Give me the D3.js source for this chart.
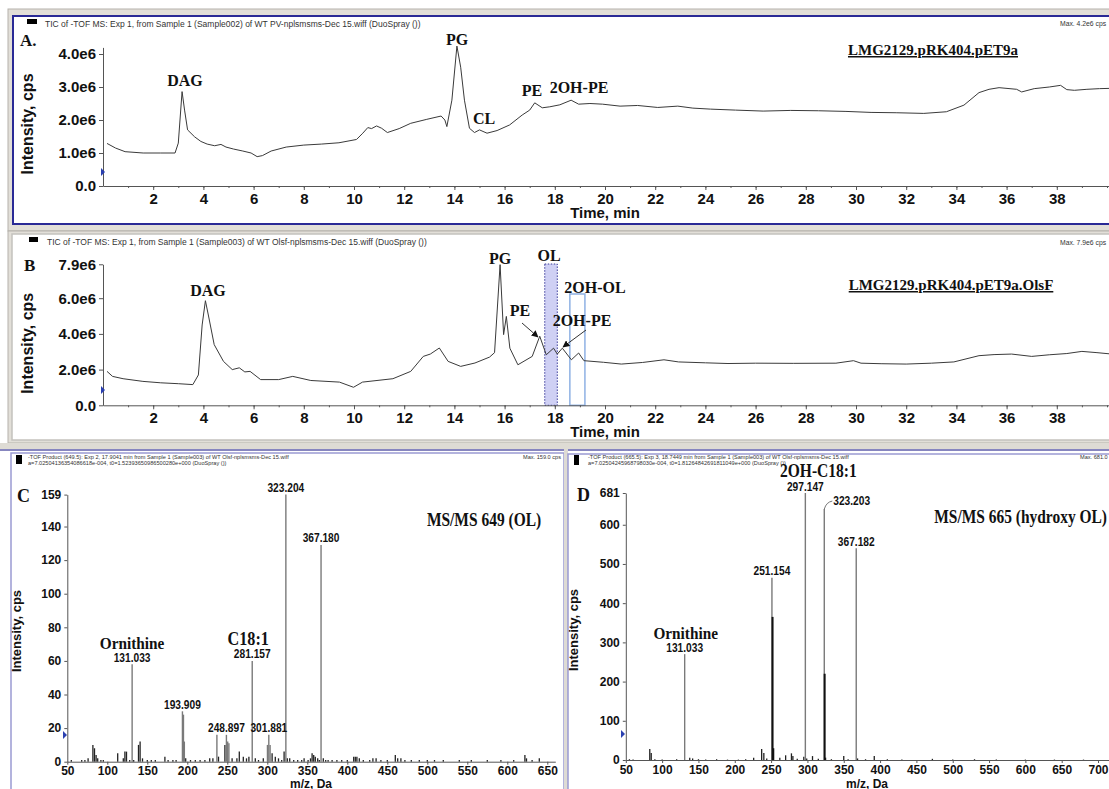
<!DOCTYPE html>
<html>
<head>
  <title>TIC and MS/MS panels</title>
  <style>
    body { margin: 0; background: #fff; }
    svg { display: block; }
    .tick text { font-family: "Liberation Sans", Arial, sans-serif; font-weight: bold; fill: #111; }
    .big .tick text { font-size: 15px; }
    .small .tick text { font-size: 12px; }
    .domain, .tick line { stroke: #555; }
    .hdr { font-family: Arial, "Liberation Sans", sans-serif; font-size: 8.5px; fill: #333; }
    .ann { font-family: "Liberation Serif", "Times New Roman", serif; font-weight: bold; fill: #111; }
    .num { font-family: "Liberation Sans", Arial, sans-serif; font-weight: bold; font-size: 12px; fill: #111; }
    .axt { font-family: "Liberation Sans", Arial, sans-serif; font-weight: bold; fill: #111; }
  </style>
</head>
<body>
  <div id="chart"></div>

  <script src="https://d3js.org/d3.v7.min.js"></script>
  <script>
    // ---- data ----
    const timeTicks = [2, 4, 6, 8, 10, 12, 14, 16, 18, 20, 22, 24, 26, 28, 30, 32, 34, 36, 38];
    const yTicksA = [0, 1e6, 2e6, 3e6, 4e6];
    const yTicksB = [0, 2e6, 4e6, 6e6, 7.9e6];

    // [time (min), intensity (cps)]
    const ticA = [
      [0.16, 1.29e6], [0.5, 1.15e6], [0.88, 1.04e6], [1.6, 1.0e6], [2.3, 1.0e6], [2.87, 1.0e6],
      [3.0, 1.3e6], [3.15, 2.86e6], [3.25, 2.3e6], [3.37, 1.7e6], [3.65, 1.49e6], [3.9, 1.35e6],
      [4.15, 1.27e6], [4.45, 1.22e6], [4.7, 1.26e6], [4.9, 1.18e6], [5.2, 1.12e6], [5.57, 1.06e6],
      [5.9, 1.0e6], [6.14, 0.89e6], [6.35, 0.92e6], [6.7, 1.06e6], [7.3, 1.18e6], [8.0, 1.24e6],
      [8.7, 1.27e6], [9.4, 1.31e6], [10.1, 1.41e6], [10.35, 1.6e6], [10.55, 1.77e6], [10.7, 1.74e6],
      [10.9, 1.82e6], [11.1, 1.75e6], [11.33, 1.62e6], [11.8, 1.74e6], [12.26, 1.9e6], [12.9, 2.02e6],
      [13.47, 2.12e6], [13.62, 2.0e6], [13.7, 1.8e6], [13.9, 2.6e6], [14.1, 4.24e6], [14.25, 3.6e6],
      [14.4, 2.6e6], [14.6, 1.75e6], [14.8, 1.62e6], [15.0, 1.7e6], [15.3, 1.6e6], [15.7, 1.68e6],
      [16.2, 1.85e6], [16.7, 2.15e6], [17.0, 2.3e6], [17.2, 2.52e6], [17.5, 2.37e6], [17.8, 2.4e6],
      [18.2, 2.46e6], [18.65, 2.6e6], [18.95, 2.48e6], [19.4, 2.5e6], [19.9, 2.48e6], [20.6, 2.42e6],
      [21.3, 2.44e6], [22.1, 2.38e6], [22.9, 2.42e6], [23.5, 2.36e6], [24.2, 2.33e6], [25.2, 2.3e6],
      [26.3, 2.27e6], [27.4, 2.29e6], [28.5, 2.28e6], [29.6, 2.26e6], [30.6, 2.23e6], [31.6, 2.22e6],
      [32.7, 2.2e6], [33.6, 2.25e6], [34.3, 2.45e6], [34.9, 2.83e6], [35.3, 2.93e6], [35.7, 2.98e6],
      [36.4, 2.93e6], [36.6, 2.85e6], [37.1, 2.95e6], [37.7, 3.0e6], [38.15, 3.05e6], [38.4, 2.92e6],
      [38.7, 2.9e6], [39.2, 2.93e6], [39.7, 2.95e6], [40.2, 2.96e6]
    ];

    const ticB = [
      [0.16, 1.9e6], [0.38, 1.62e6], [0.8, 1.49e6], [1.59, 1.34e6], [2.3, 1.26e6], [3.0, 1.21e6],
      [3.58, 1.16e6], [3.8, 1.7e6], [3.95, 4.5e6], [4.08, 5.86e6], [4.22, 4.89e6], [4.43, 3.4e6],
      [4.8, 2.46e6], [5.15, 2.0e6], [5.43, 2.1e6], [5.65, 1.87e6], [5.86, 1.9e6], [6.28, 1.44e6],
      [7.0, 1.44e6], [7.56, 1.62e6], [8.28, 1.39e6], [9.42, 1.3e6], [9.98, 1.01e6], [10.34, 1.3e6],
      [11.55, 1.49e6], [12.26, 1.9e6], [12.76, 2.74e6], [13.04, 2.87e6], [13.4, 3.21e6], [13.75, 2.46e6],
      [14.25, 2.18e6], [14.82, 2.37e6], [15.4, 2.7e6], [15.6, 2.95e6], [15.82, 7.88e6], [15.96, 3.96e6],
      [16.07, 4.98e6], [16.21, 3.2e6], [16.53, 2.27e6], [17.1, 2.74e6], [17.4, 3.87e6], [17.66, 2.83e6],
      [17.95, 3.2e6], [18.1, 2.87e6], [18.3, 3.2e6], [18.66, 2.55e6], [18.95, 2.93e6], [19.16, 2.5e6],
      [19.94, 2.41e6], [20.65, 2.31e6], [21.5, 2.4e6], [22.35, 2.55e6], [22.93, 2.43e6], [24.0, 2.38e6],
      [24.9, 2.34e6], [26.0, 2.36e6], [27.5, 2.35e6], [29.2, 2.36e6], [29.9, 2.5e6], [30.2, 2.36e6],
      [31.0, 2.33e6], [32.0, 2.31e6], [33.0, 2.36e6], [33.9, 2.43e6], [34.9, 2.78e6], [35.5, 2.84e6],
      [36.2, 2.87e6], [37.0, 2.74e6], [37.7, 2.83e6], [38.4, 2.9e6], [39.0, 3.02e6], [39.6, 2.95e6],
      [40.2, 2.87e6]
    ];

    const windowOL = [17.6, 18.1];
    const window2OHOL = [18.6, 19.2];

    // MS/MS 649 (OL): [m/z, intensity]
    const peaksC = [
      [131.033, 58], [193.909, 30], [195.2, 28], [196.3, 12], [237.0, 16], [248.897, 16],
      [250.5, 12], [252.0, 11], [281.157, 60], [300.2, 10], [301.881, 16], [303.5, 10],
      [323.204, 159], [367.180, 129]
    ];
    const noiseC = [
      [55, 1], [68, 1], [72, 1], [76, 2], [82, 10], [84, 8], [86, 4], [88, 2], [92, 1], [95, 1],
      [113, 5], [120, 2], [122, 6], [124, 6], [128, 1], [133, 1], [139, 10], [141, 12], [144, 2],
      [150, 1], [155, 1], [160, 1], [172, 3], [176, 1], [182, 1], [186, 1], [198, 2], [204, 1],
      [210, 1], [216, 1], [222, 1], [228, 2], [232, 2], [239, 3], [247, 10], [256, 2], [262, 2],
      [265, 6], [270, 3], [274, 2], [277, 3], [285, 2], [289, 1], [295, 2], [306, 5], [310, 3],
      [314, 2], [318, 1], [321, 6], [325, 2], [328, 2], [333, 1], [338, 1], [343, 1], [346, 2],
      [351, 1], [354, 2], [356, 5], [358, 4], [360, 3], [363, 2], [365, 1], [370, 2], [373, 1],
      [376, 1], [381, 1], [387, 1], [393, 1], [400, 1], [408, 3], [410, 3], [412, 3], [415, 2],
      [420, 1], [428, 1], [432, 2], [436, 2], [442, 1], [450, 1], [460, 4], [463, 2], [467, 2],
      [472, 1], [480, 1], [490, 1], [500, 1], [509, 1], [520, 1], [540, 1], [555, 1], [575, 1],
      [592, 1], [608, 1], [622, 4], [624, 2], [631, 1], [640, 2]
    ];
    const labelsC = [
      [131.033, "131.033"], [193.909, "193.909"], [248.897, "248.897"], [281.157, "281.157"],
      [301.881, "301.881"], [323.204, "323.204"], [367.180, "367.180"]
    ];
    const yTicksC = [0, 20, 40, 60, 80, 100, 120, 140, 159];
    const mzTicksC = [50, 100, 150, 200, 250, 300, 350, 400, 450, 500, 550, 600, 650];

    // MS/MS 665 (hydroxy OL)
    const peaksD = [
      [131.033, 270], [251.154, 465], [297.147, 681], [323.203, 640], [367.182, 540]
    ];
    const darkD = [[252.0, 365], [253.0, 30], [323.7, 220]];
    const noiseD = [
      [55, 2], [60, 1], [83, 28], [85, 18], [90, 2], [100, 1], [120, 2], [138, 6], [142, 4],
      [150, 2], [160, 1], [175, 2], [190, 1], [205, 1], [215, 2], [226, 6], [237, 28], [240, 18],
      [244, 4], [262, 6], [270, 12], [278, 17], [280, 10], [286, 3], [295, 8], [299, 4], [307, 10],
      [315, 3], [325, 6], [333, 2], [350, 10], [356, 2], [369, 4], [380, 2], [392, 10], [410, 2],
      [430, 1], [472, 3], [500, 1], [530, 2], [560, 1], [600, 1], [640, 1], [680, 1]
    ];
    const labelsD = [
      [131.033, "131.033"], [251.154, "251.154"], [297.147, "297.147"], [367.182, "367.182"]
    ];
    const yTicksD = [0, 100, 200, 300, 400, 500, 600, 681];
    const mzTicksD = [50, 100, 150, 200, 250, 300, 350, 400, 450, 500, 550, 600, 650, 700];

    // ---- svg ----
    const W = 1109, H = 789;
    const svg = d3.select("#chart").append("svg")
      .attr("width", W).attr("height", H);

    // text helper; sx squeezes the text horizontally like the stretched original
    function txt(cls, x, y, s, size, anchor, sx, sy) {
      return svg.append("text").attr("class", cls)
        .attr("transform", `translate(${x},${y}) scale(${sx || 1},${sy || 1})`)
        .attr("font-size", size).attr("text-anchor", anchor || "start").text(s);
    }

    // window chrome
    svg.append("rect").attr("x", 8).attr("y", 9).attr("width", 1110).attr("height", 222)
      .attr("fill", "#e2dfd8").attr("stroke", "#b5b2ab");
    svg.append("rect").attr("x", 13).attr("y", 16).attr("width", 1105).attr("height", 208)
      .attr("fill", "#fff").attr("stroke", "#2a2a96").attr("stroke-width", 2);
    svg.append("rect").attr("x", 8).attr("y", 231).attr("width", 1110).attr("height", 212)
      .attr("fill", "#e2dfd8").attr("stroke", "#b5b2ab");
    svg.append("rect").attr("x", 12).attr("y", 234).attr("width", 1105).attr("height", 206)
      .attr("fill", "#fff").attr("stroke", "#c4c2bd").attr("stroke-width", 1.5);
    svg.append("rect").attr("x", 0).attr("y", 443).attr("width", W).attr("height", 8)
      .attr("fill", "#dedbd4");
    svg.append("line").attr("x1", 0).attr("x2", W).attr("y1", 450).attr("y2", 450)
      .attr("stroke", "#6a6ab8").attr("stroke-width", 1.5);
    svg.append("rect").attr("x", 11).attr("y", 453).attr("width", 553).attr("height", 345)
      .attr("fill", "#fff").attr("stroke", "#9a9ad2").attr("stroke-width", 1.5);
    svg.append("rect").attr("x", 564).attr("y", 443).attr("width", 4).attr("height", 346)
      .attr("fill", "#dedbd4");
    svg.append("rect").attr("x", 568).attr("y", 454).attr("width", 550).attr("height", 345)
      .attr("fill", "#fff").attr("stroke", "#9a9ad2").attr("stroke-width", 1.5);

    function marker(x, y) {
      svg.append("path").attr("d", `M${x},${y - 4}L${x + 4},${y}L${x},${y + 4}Z`).attr("fill", "#2a40b0");
    }

    // ---- chromatogram panels ----
    function chromPanel(opt) {
      const x = d3.scaleLinear().domain([0, 40.2]).range([103, 103 + 40.2 * 25.1]);
      const y = d3.scaleLinear().domain([0, opt.ymax]).range([opt.y0, opt.y0 - opt.ymax * opt.pxPer]);
      const g = svg.append("g").attr("class", "big");

      if (opt.boxes) opt.boxes(g, x, y);

      g.append("path").datum(opt.data)
        .attr("fill", "none").attr("stroke", "#3a3a3a").attr("stroke-width", 1)
        .attr("d", d3.line().x(d => x(d[0])).y(d => y(d[1])));

      // minor ticks every minute
      g.append("g").attr("transform", `translate(0,${opt.y0})`)
        .call(d3.axisBottom(x).tickValues(d3.range(1, 41)).tickSize(2).tickFormat(""))
        .call(a => a.select(".domain").remove());
      g.append("g").attr("transform", `translate(0,${opt.y0})`)
        .call(d3.axisBottom(x).tickValues(timeTicks).tickSize(4).tickSizeOuter(0).tickPadding(3));
      g.append("g").attr("transform", "translate(103,0)")
        .call(d3.axisLeft(y).tickValues(opt.yTicks).tickSize(4).tickSizeOuter(0).tickPadding(3)
          .tickFormat(d => d === 0 ? "0.0" : (d / 1e6).toFixed(1) + "e6"));

      txt("axt", 605, opt.y0 + 32, "Time, min", 15, "middle");
      svg.append("text").attr("class", "axt").attr("font-size", 16)
        .attr("transform", `translate(33,${opt.y0 - 62}) rotate(-90)`)
        .attr("text-anchor", "middle").text("Intensity, cps");
      marker(101, opt.marker);
      return { x, y };
    }

    // header A
    svg.append("rect").attr("x", 27).attr("y", 19).attr("width", 10).attr("height", 5).attr("fill", "#000");
    txt("hdr", 45, 27, "TIC of -TOF MS: Exp 1, from Sample 1 (Sample002) of WT PV-nplsmsms-Dec 15.wiff (DuoSpray ())", 8.5);
    txt("hdr", 1060, 26, "Max. 4.2e6 cps", 8, "start", 0.8, 0.8);
    txt("ann", 20, 46, "A.", 17);

    chromPanel({ data: ticA, ymax: 4.2e6, y0: 186, pxPer: 33e-6, yTicks: yTicksA, marker: 172 });

    const annA = [["DAG", 185, 86], ["PG", 457, 45], ["CL", 484, 124], ["PE", 532, 96], ["2OH-PE", 579, 93]];
    annA.forEach(([t, x, y]) => txt("ann", x, y, t, 16, "middle"));
    txt("ann", 933, 55, "LMG2129.pRK404.pET9a", 15, "middle").attr("text-decoration", "underline");

    // header B
    svg.append("rect").attr("x", 29).attr("y", 237).attr("width", 9).attr("height", 5).attr("fill", "#000");
    txt("hdr", 47, 245, "TIC of -TOF MS: Exp 1, from Sample 1 (Sample003) of WT Olsf-nplsmsms-Dec 15.wiff (DuoSpray ())", 8.5);
    txt("hdr", 1060, 245, "Max. 7.9e6 cps", 8, "start", 0.8, 0.8);
    txt("ann", 24, 271, "B", 17);

    chromPanel({
      data: ticB, ymax: 7.9e6, y0: 405.3, pxPer: 17.85e-6, yTicks: yTicksB, marker: 390,
      boxes: (g, x, y) => {
        g.append("rect").attr("x", x(windowOL[0])).attr("y", 264)
          .attr("width", x(windowOL[1]) - x(windowOL[0])).attr("height", y(0) - 264)
          .attr("fill", "#cfd0f4").attr("stroke", "#3b3b9a").attr("stroke-dasharray", "1.5,1.5");
        g.append("rect").attr("x", x(window2OHOL[0])).attr("y", 294)
          .attr("width", x(window2OHOL[1]) - x(window2OHOL[0])).attr("height", y(0) - 294)
          .attr("fill", "none").attr("stroke", "#8fb1e4").attr("stroke-width", 1.5);
      }
    });

    const annB = [["DAG", 208, 296], ["PG", 500, 264], ["OL", 549, 261], ["PE", 520, 316], ["2OH-OL", 595, 293], ["2OH-PE", 582, 326]];
    annB.forEach(([t, x, y]) => txt("ann", x, y, t, 16, "middle"));
    txt("ann", 951, 290, "LMG2129.pRK404.pET9a.OlsF", 15, "middle").attr("text-decoration", "underline");

    const defs = svg.append("defs");
    defs.append("marker").attr("id", "arr").attr("viewBox", "0 0 10 10").attr("refX", 9).attr("refY", 5)
      .attr("markerWidth", 7).attr("markerHeight", 7).attr("orient", "auto")
      .append("path").attr("d", "M0,0L10,5L0,10Z").attr("fill", "#111");
    svg.append("line").attr("x1", 522).attr("y1", 323).attr("x2", 538).attr("y2", 337)
      .attr("stroke", "#333").attr("stroke-width", 1).attr("marker-end", "url(#arr)");
    svg.append("line").attr("x1", 586).attr("y1", 330).attr("x2", 563).attr("y2", 347)
      .attr("stroke", "#333").attr("stroke-width", 1).attr("marker-end", "url(#arr)");

    // ---- spectrum panels ----
    function specPanel(opt) {
      const x = d3.scaleLinear().domain(opt.xdom).range(opt.xr);
      const y = d3.scaleLinear().domain([0, opt.ymax]).range([opt.y0, opt.ytop]);
      const g = svg.append("g").attr("class", "small");

      g.selectAll("line.noise").data(opt.noise).join("line")
        .attr("x1", d => x(d[0])).attr("x2", d => x(d[0]))
        .attr("y1", y(0)).attr("y2", d => y(d[1]))
        .attr("stroke", "#222").attr("stroke-width", 1.3);
      g.selectAll("line.pk").data(opt.peaks).join("line")
        .attr("x1", d => x(d[0])).attr("x2", d => x(d[0]))
        .attr("y1", y(0)).attr("y2", d => y(d[1]))
        .attr("stroke", "#7a7a7a").attr("stroke-width", 1.4);
      if (opt.dark) g.selectAll("line.dk").data(opt.dark).join("line")
        .attr("x1", d => x(d[0])).attr("x2", d => x(d[0]))
        .attr("y1", y(0)).attr("y2", d => y(d[1]))
        .attr("stroke", "#111").attr("stroke-width", 2);

      g.append("g").attr("transform", `translate(0,${opt.y0})`)
        .call(d3.axisBottom(x).tickValues(opt.xticks).tickSize(3).tickSizeOuter(0).tickPadding(2));
      g.append("g").attr("transform", `translate(${opt.xr[0]},0)`)
        .call(d3.axisLeft(y).tickValues(opt.yticks).tickSize(3).tickSizeOuter(0).tickPadding(3));

      opt.labels.forEach(([mz, t]) => {
        const h = (opt.peaks.find(p => p[0] === mz) || [0, 0])[1];
        txt("num", x(mz), y(h) - 2.5, t, 12, "middle", 0.85);
      });
      return { x, y };
    }

    // header C (tiny text: drawn at 8px and scaled down)
    svg.append("rect").attr("x", 16).attr("y", 455).attr("width", 6).attr("height", 9).attr("fill", "#000");
    txt("hdr", 28, 458.5, "-TOF Product (649.5): Exp 2, 17.9041 min from Sample 1 (Sample003) of WT Olsf-nplsmsms-Dec 15.wiff", 8, "start", 0.66, 0.62);
    txt("hdr", 28, 465, "a=7.02504136354086618e-004, t0=1.52393650986500280e+000 (DuoSpray ())", 8, "start", 0.66, 0.62);
    txt("hdr", 561, 459, "Max. 159.0 cps", 8, "end", 0.66, 0.62);
    txt("ann", 17, 502, "C", 18);

    const sc = specPanel({
      xdom: [50, 660], xr: [67.3, 67.3 + 610 * 0.8], ymax: 159, y0: 761.7, ytop: 494.6,
      peaks: peaksC, noise: noiseC, labels: labelsC, yticks: yTicksC, xticks: mzTicksC
    });
    txt("axt", 311, 788, "m/z, Da", 12, "middle");
    svg.append("text").attr("class", "axt").attr("font-size", 13)
      .attr("transform", "translate(21,631) rotate(-90)").attr("text-anchor", "middle").text("Intensity, cps");
    marker(63, 735);
    txt("ann", sc.x(131.033), sc.y(58) - 15.5, "Ornithine", 17, "middle", 0.9);
    txt("ann", sc.x(281.157) - 4, sc.y(60) - 15.5, "C18:1", 18, "middle", 0.9);
    txt("ann", 484, 526, "MS/MS 649 (OL)", 18, "middle", 0.86);

    // header D
    svg.append("rect").attr("x", 574).attr("y", 455).attr("width", 5).attr("height", 10).attr("fill", "#000");
    txt("hdr", 588, 458.5, "-TOF Product (665.5): Exp 3, 18.7449 min from Sample 1 (Sample003) of WT Olsf-nplsmsms-Dec 15.wiff", 8, "start", 0.66, 0.62);
    txt("hdr", 588, 465, "a=7.02504245968798030e-004, t0=1.81264842691811049e+000 (DuoSpray ())", 8, "start", 0.66, 0.62);
    txt("hdr", 1080, 459, "Max. 681.0 cps", 8, "start", 0.66, 0.62);
    txt("ann", 577, 501, "D", 18);

    const sd = specPanel({
      xdom: [50, 715], xr: [625.8, 625.8 + 665 * 0.7265], ymax: 681, y0: 760, ytop: 493,
      peaks: peaksD, noise: noiseD, dark: darkD, labels: labelsD, yticks: yTicksD, xticks: mzTicksD
    });
    txt("axt", 867, 788, "m/z, Da", 12, "middle");
    svg.append("text").attr("class", "axt").attr("font-size", 13)
      .attr("transform", "translate(578,630) rotate(-90)").attr("text-anchor", "middle").text("Intensity, cps");
    marker(621, 734);
    // 323.203 label with leader
    const bx = sd.x(323.203), by = sd.y(640);
    svg.append("path").attr("d", `M${bx},${by}Q${bx + 2},${by - 7} ${bx + 8},${by - 8}`)
      .attr("fill", "none").attr("stroke", "#555").attr("stroke-width", 0.8);
    txt("num", bx + 9, by - 4, "323.203", 12, "start", 0.85);
    txt("ann", sd.x(131.033) + 1, sd.y(270) - 15, "Ornithine", 17, "middle", 0.9);
    txt("ann", sd.x(297.147) + 13, sd.y(681) - 16.5, "2OH-C18:1", 19, "middle", 0.82);
    txt("ann", 1107, 523, "MS/MS 665 (hydroxy OL)", 18, "end", 0.86);
  </script>
</body>
</html>
